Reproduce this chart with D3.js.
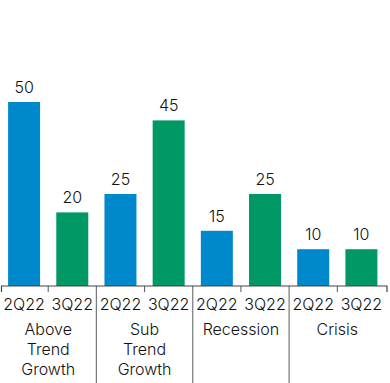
<!DOCTYPE html>
<html><head><meta charset="utf-8">
<script src="https://cdn.jsdelivr.net/npm/d3@7"></script>
<style>html,body{margin:0;padding:0;background:#fff;}svg{display:block;}</style>
</head><body>
<svg id="chart" width="390" height="383"></svg>
<script>
const groups = ["Above Trend Growth", "Sub Trend Growth", "Recession", "Crisis"];
const groupLines = [["Above","Trend","Growth"],["Sub","Trend","Growth"],["Recession"],["Crisis"]];
const quarters = ["2Q22", "3Q22"];
const values2Q22 = [50, 25, 15, 10];
const values3Q22 = [20, 45, 25, 10];
const colors = {"2Q22": "#0088CC", "3Q22": "#009966"};

const svg = d3.select("#chart");
const font = "Inter, 'Liberation Sans', Arial, sans-serif";
const weight = 300;
const axisY = 286;
const x0 = d3.scaleBand().domain(groups).range([1.5, 387]).paddingInner(0).paddingOuter(0);
const x1 = d3.scaleBand().domain(quarters).range([0, x0.bandwidth()]).paddingInner(0.336).paddingOuter(0.168);
const y = d3.scaleLinear().domain([0, 50]).range([axisY, 102]);

const data = groups.map((g, i) => ({g, vals: [{q: "2Q22", v: values2Q22[i]}, {q: "3Q22", v: values3Q22[i]}]}));

const gG = svg.selectAll("g.grp").data(data).join("g").attr("class","grp")
  .attr("transform", d => `translate(${x0(d.g) - 1.5},0)`);

gG.selectAll("rect").data(d => d.vals).join("rect")
  .attr("x", d => x1(d.q)).attr("width", x1.bandwidth())
  .attr("y", d => y(d.v)).attr("height", d => axisY - y(d.v))
  .attr("fill", d => colors[d.q]);

gG.selectAll("text.val").data(d => d.vals).join("text").attr("class","val")
  .attr("x", d => x1(d.q) + x1.bandwidth()/2).attr("y", d => y(d.v) - 9)
  .attr("text-anchor","middle").attr("font-family", font).attr("font-weight", weight).attr("font-size", 16).attr("fill","#111")
  .text(d => d.v);

gG.selectAll("text.q").data(quarters).join("text").attr("class","q")
  .attr("x", q => x1(q) + x1.bandwidth()/2).attr("y", 310)
  .attr("text-anchor","middle").attr("font-family", font).attr("font-weight", weight).attr("font-size", 16).attr("fill","#111")
  .text(q => q);

gG.each(function(d, i) {
  const t = d3.select(this).append("text")
    .attr("x", x0.bandwidth()/2).attr("text-anchor","middle")
    .attr("font-family", font).attr("font-weight", weight).attr("font-size", 16).attr("fill","#111");
  groupLines[i].forEach((line, k) => {
    t.append("tspan").attr("x", x0.bandwidth()/2).attr("y", 335 + k*20).text(line);
  });
});

// middle ticks
gG.append("line").attr("x1", x0.bandwidth()/2).attr("x2", x0.bandwidth()/2)
  .attr("y1", axisY).attr("y2", axisY + 6).attr("stroke","#555").attr("stroke-width",1);

// group dividers
const bounds = groups.slice(1).map(g => x0(g) - 1.5);
svg.selectAll("line.div").data(bounds).join("line").attr("class","div")
  .attr("x1", d => d).attr("x2", d => d).attr("y1", axisY).attr("y2", 383)
  .attr("stroke","#777").attr("stroke-width",1.2);

// axis line with end ticks
const r = x0.range();
svg.append("path")
  .attr("d", `M${r[0]},${axisY+6}V${axisY}H${r[1]}V${axisY+6}`)
  .attr("fill","none").attr("stroke","#444").attr("stroke-width",1.2);
</script>
</body></html>
